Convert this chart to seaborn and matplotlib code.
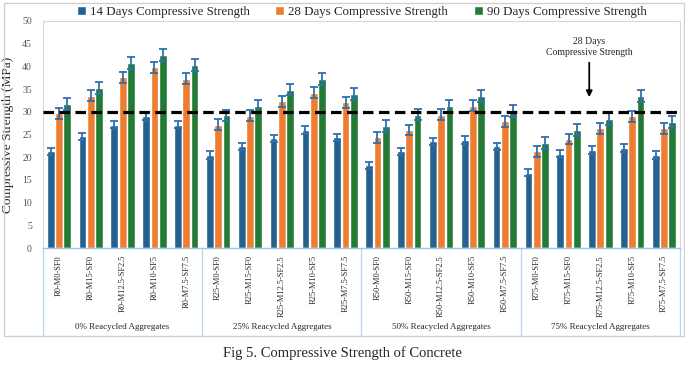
import pandas as pd
import matplotlib
matplotlib.use('Agg')
import matplotlib.pyplot as plt
import seaborn as sns
from matplotlib.patches import Rectangle

# Karışım isimleri ve grup etiketleri
mixes = ['R0-M0-SF0', 'R0-M15-SF0', 'R0-M12.5-SF2.5', 'R0-M10-SF5', 'R0-M7.5-SF7.5',
         'R25-M0-SF0', 'R25-M15-SF0', 'R25-M12.5-SF2.5', 'R25-M10-SF5', 'R25-M7.5-SF7.5',
         'R50-M0-SF0', 'R50-M15-SF0', 'R50-M12.5-SF2.5', 'R50-M10-SF5', 'R50-M7.5-SF7.5',
         'R75-M0-SF0', 'R75-M15-SF0', 'R75-M12.5-SF2.5', 'R75-M10-SF5', 'R75-M7.5-SF7.5']
groups = ['0% Reacycled Aggregates', '25% Reacycled Aggregates',
          '50% Reacycled Aggregates', '75% Reacycled Aggregates']
ages = ['14 Days Compressive Strength', '28 Days Compressive Strength',
        '90 Days Compressive Strength']

d14 = [21.3, 24.6, 27.2, 29.1, 27.2, 20.5, 22.4, 24.2, 26.0, 24.4,
       18.2, 21.3, 23.5, 23.8, 22.4, 16.6, 20.8, 21.6, 22.0, 20.5]
d28 = [29.7, 33.5, 37.6, 39.8, 37.3, 27.2, 29.1, 32.3, 34.2, 32.1,
       24.4, 26.0, 29.4, 31.3, 27.9, 21.3, 24.0, 26.4, 29.0, 26.4]
d90 = [31.8, 35.3, 40.8, 42.5, 40.3, 29.2, 31.3, 34.9, 37.3, 33.9,
       26.9, 29.4, 31.2, 33.4, 30.1, 23.1, 26.0, 28.5, 33.4, 27.7]
err14 = [0.8] * 20
err28 = [1.2] * 20
err90 = [1.3] * 20

df = pd.DataFrame({
    'Mix': mixes * 3,
    'Age': [ages[0]] * 20 + [ages[1]] * 20 + [ages[2]] * 20,
    'Strength': d14 + d28 + d90,
})

sns.set_style('white')
plt.rcParams['font.family'] = ['Liberation Serif', 'DejaVu Serif']

fig = plt.figure(figsize=(6.85, 3.68), dpi=100)
ax = fig.add_axes([43 / 685, 120 / 368, 637 / 685, 227 / 368])

sns.barplot(data=df, x='Mix', y='Strength', hue='Age', order=mixes, hue_order=ages,
            palette=['#24618e', '#ed7d31', '#237a35'], width=0.78, gap=0.06,
            errorbar=None, saturation=1, ax=ax)

# Hata çubukları
for cont, err in zip(ax.containers, [err14, err28, err90]):
    xs = [b.get_x() + b.get_width() / 2 for b in cont]
    hs = [b.get_height() for b in cont]
    ax.errorbar(xs, hs, yerr=err, fmt='none', ecolor='#2e6fb0', elinewidth=1.3,
                capsize=2.8, capthick=1.3, zorder=5)

ax.axhline(30, color='black', ls=(0, (3.3, 1.7)), lw=2.3, zorder=6)

ax.annotate('28 Days\nCompressive Strength', xy=(16.65, 32.6), xytext=(16.65, 44.3),
            ha='center', va='center', fontsize=7,
            arrowprops=dict(arrowstyle='-|>', color='black', lw=1.3, mutation_scale=9))

ax.set_ylim(0, 50)
ax.set_xlim(-0.5, 19.5)
ax.set_yticks(range(0, 51, 5))
ax.tick_params(axis='y', labelsize=7, labelcolor='#555555', length=0, pad=8)
ax.tick_params(axis='x', labelsize=6, length=0, pad=5)
ax.set_xticks(range(20))
ax.set_xticklabels(mixes, rotation=90, va='top')
ax.set_xlabel('')
ax.set_ylabel('Compressive Strength (MPa)', fontsize=9.6)
ax.yaxis.set_label_coords(-0.046, 0.5)

for side in ['top', 'right', 'left']:
    ax.spines[side].set_color('#d9d9d9')
    ax.spines[side].set_linewidth(0.8)
ax.spines['bottom'].set_color('#9dc3e6')
ax.spines['bottom'].set_linewidth(1)

# Grup ayraçları ve etiketleri
trans = ax.get_xaxis_transform()
for k in range(5):
    ax.plot([k * 5 - 0.5] * 2, [0, -0.385], color='#bdd7ee', lw=1, transform=trans,
            clip_on=False)
for k, g in enumerate(groups):
    ax.text(k * 5 + 2, -0.35, g, transform=trans, ha='center', va='center', fontsize=6.5)

sns.move_legend(ax, 'center', bbox_to_anchor=(0.5, 1.04), ncol=3, frameon=False,
                title=None, fontsize=9.3, handlelength=0.7, handleheight=0.7,
                handletextpad=0.3, columnspacing=2.0, borderaxespad=0)

fig.patches.append(Rectangle((4 / 685, 1 - 336 / 368), 680 / 685, 333 / 368,
                             transform=fig.transFigure, fill=False,
                             edgecolor='#d0d0d0', lw=1))

fig.text(0.5, 1 - 353 / 368, 'Fig 5. Compressive Strength of Concrete',
         ha='center', va='center', fontsize=10.5)

fig.savefig('out.png', dpi=100)
